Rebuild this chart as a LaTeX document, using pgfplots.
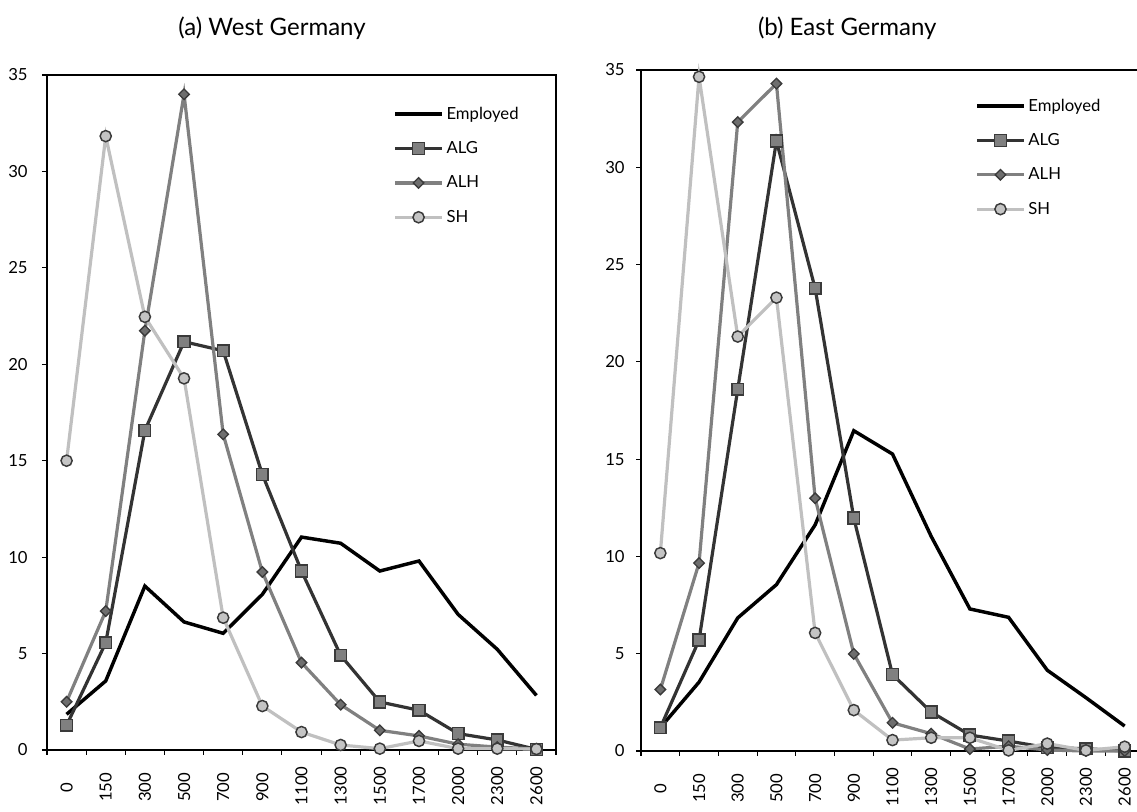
\documentclass[border=0pt]{standalone}
\usepackage{fontspec}
\setmainfont{Lato}
\usepackage{pgfplots}
\usepackage{pgfplotstable}
\pgfplotsset{compat=1.18}
\definecolor{algline}{HTML}{333333}
\definecolor{algfill}{HTML}{808080}
\definecolor{alhline}{HTML}{808080}
\definecolor{alhfill}{HTML}{6E6E6E}
\definecolor{shline}{HTML}{C0C0C0}
\definecolor{shfill}{HTML}{C4C4C4}
\definecolor{markdraw}{HTML}{3A3A3A}

\pgfplotstableread{
x emp alg alh sh
0 1.85 1.28 2.50 15.00
1 3.58 5.56 7.20 31.83
2 8.50 16.57 21.74 22.46
3 6.64 21.17 34.00 19.27
4 6.05 20.70 16.37 6.86
5 8.07 14.29 9.23 2.28
6 11.04 9.28 4.53 0.93
7 10.72 4.91 2.35 0.26
8 9.28 2.49 1.02 0.07
9 9.80 2.06 0.73 0.47
10 7.03 0.85 0.30 0.07
11 5.22 0.52 0.15 0.07
12 2.83 0.03 0.05 0.05
}\west

\pgfplotstableread{
x emp alg alh sh
0 1.20 1.20 3.16 10.17
1 3.54 5.70 9.66 34.65
2 6.84 18.59 32.32 21.30
3 8.55 31.35 34.30 23.30
4 11.62 23.78 12.99 6.07
5 16.46 11.97 4.99 2.10
6 15.26 3.93 1.45 0.56
7 11.03 2.00 0.89 0.68
8 7.30 0.82 0.10 0.68
9 6.87 0.51 0.25 0.03
10 4.15 0.17 0.05 0.38
11 2.74 0.12 0.00 0.03
12 1.28 0.00 0.00 0.22
}\east

\pgfplotsset{
  panel/.style={
    scale only axis,
    height=506.25pt,
    xmin=-0.5, xmax=12.5,
    ymin=0, ymax=35,
    ytick={0,5,...,35},
    xtick={0,...,12},
    xticklabels={0,150,300,500,700,900,1100,1300,1500,1700,2000,2300,2600},
    minor xtick={-0.5,0.5,...,12.5},
    major x tick style={draw=none},
    minor x tick style={line width=0.8pt, black},
    major y tick style={line width=0.8pt, black},
    tick align=outside,
    major tick length=3.75pt,
    minor tick length=3.75pt,
    xtick pos=bottom, ytick pos=left,
    axis line style={line width=1.4pt},
    clip=false,
    /pgf/number format/assume math mode=true,
    ticklabel style={font=\fontsize{12.5}{14}\selectfont},
    xticklabel style={rotate=90, anchor=east, inner sep=0pt, text width=27pt, align=center},
    xticklabel shift=10.5pt,
    title style={anchor=base, font=\fontsize{18}{21}\selectfont},
    legend style={draw=none, fill=none, inner sep=0pt, anchor=north west,
      row sep=11.25pt, font=\fontsize{12.5}{14}\selectfont},
    legend cell align=left,
    legend image code/.code={\draw[mark repeat=2,mark phase=2,#1] plot coordinates {(0pt,0pt) (17.6pt,0pt) (35.25pt,0pt)};},
  },
  emp/.style={black, line width=2.6pt, mark=none},
  alg/.style={algline, line width=2.4pt, mark=square*, mark size=4.4pt,
    mark options={fill=algfill, draw=markdraw, line width=1.1pt}},
  alh/.style={alhline, line width=2.4pt, mark=square*, mark size=2.8pt,
    mark options={rotate=45, fill=alhfill, draw=markdraw, line width=1.0pt}},
  sh/.style={shline, line width=2.4pt, mark=*, mark size=4.2pt,
    mark options={fill=shfill, draw=markdraw, line width=1.1pt}},
}

\begin{document}
\begin{tikzpicture}
\begin{axis}[panel, width=381.75pt, at={(0pt,0pt)}, anchor=south west,
  yticklabel shift=7.25pt,
  title={(a) West Germany},
  title style={at={(rel axis cs:0.442,1)}, yshift=23.25pt},
  legend style={at={(rel axis cs:0.680,0.957)}}]
\addplot[emp] table[x=x,y=emp]{\west};
\addlegendentry{Employed}
\addplot[alg] table[x=x,y=alg]{\west};
\addlegendentry{ALG}
\addplot[alh] table[x=x,y=alh]{\west};
\addlegendentry{ALH}
\addplot[sh] table[x=x,y=sh]{\west};
\addlegendentry{SH}
\end{axis}
\begin{axis}[panel, width=377.25pt, height=510.75pt, at={(445.5pt,-0.75pt)}, anchor=south west,
  yticklabel shift=5pt,
  title={(b) East Germany},
  title style={at={(rel axis cs:0.410,1)}, yshift=20pt},
  legend style={at={(rel axis cs:0.664,0.962)}}]
\addplot[emp] table[x=x,y=emp]{\east};
\addlegendentry{Employed}
\addplot[alg] table[x=x,y=alg]{\east};
\addlegendentry{ALG}
\addplot[alh] table[x=x,y=alh]{\east};
\addlegendentry{ALH}
\addplot[sh] table[x=x,y=sh]{\east};
\addlegendentry{SH}
\end{axis}
\pgfresetboundingbox
\path[use as bounding box] (-35.25pt,-46.5pt) rectangle (817.5pt,562.5pt);
\end{tikzpicture}
\end{document}
